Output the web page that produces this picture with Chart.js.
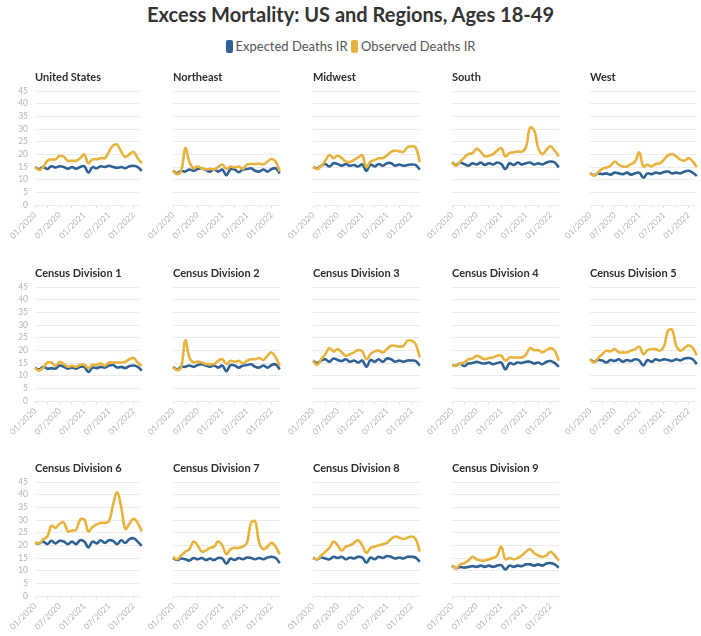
<!DOCTYPE html>
<html>
<head>
<meta charset="utf-8">
<script src="https://cdn.jsdelivr.net/npm/chart.js@4.4.0/dist/chart.umd.min.js"></script>
<style>
    body {
        margin: 0;
        background: #fff;
        width: 701px;
        height: 636px;
        overflow: hidden;
        position: relative;
        font-family: Lato, sans-serif;
    }
    #title {
        position: absolute;
        top: 2px;
        left: 0;
        width: 701px;
        text-align: center;
        font-size: 20px;
        font-weight: bold;
        color: #333;
    }
    #legend {
        position: absolute;
        top: 38px;
        left: 0;
        width: 701px;
        text-align: center;
        font-size: 13px;
        color: #555;
    }
    .swatch {
        display: inline-block;
        width: 7px;
        height: 13px;
        border-radius: 2px;
        vertical-align: -2px;
        margin-right: 3px;
    }
    canvas {
        position: absolute;
    }
</style>
</head>
<body>
<div id="title">Excess Mortality: US and Regions, Ages 18-49</div>
<div id="legend">
    <span class="swatch" style="background:#2f6194"></span>Expected Deaths IR
    <span class="swatch" style="background:#e8b33d"></span>Observed Deaths IR
</div>
<script>
// Months on the x axis
const months = [
    "01/2020", "02/2020", "03/2020", "04/2020", "05/2020", "06/2020",
    "07/2020", "08/2020", "09/2020", "10/2020", "11/2020", "12/2020",
    "01/2021", "02/2021", "03/2021", "04/2021", "05/2021", "06/2021",
    "07/2021", "08/2021", "09/2021", "10/2021", "11/2021", "12/2021",
    "01/2022", "02/2022", "03/2022"
];

// Panel titles
const regions = [
    "United States", "Northeast", "Midwest", "South", "West",
    "Census Division 1", "Census Division 2", "Census Division 3", "Census Division 4", "Census Division 5",
    "Census Division 6", "Census Division 7", "Census Division 8", "Census Division 9"
];

const yTicks = [0, 5, 10, 15, 20, 25, 30, 35, 40, 45];

// Expected / observed deaths per 100k, by month
const usExpected = [15, 14.2, 15, 14.2, 15.3, 14.8, 15.3, 15, 14.3, 15, 14.3, 15, 15.3, 12.8, 15, 14.5, 15.3, 15, 15.5, 15, 14.7, 15, 14.5, 15.3, 15.5, 15, 13.5];
const usObserved = [15, 13.8, 15, 17.5, 18, 18, 19.5, 19, 17.5, 17.5, 17.5, 18.5, 20, 16.5, 18, 18, 18.5, 18.5, 21, 23.5, 23.8, 21, 19, 20, 21, 18.5, 16.5];

const northeastExpected = [13.5, 12.5, 13.5, 13.2, 14, 13.5, 14.2, 14.5, 13.8, 13.2, 14, 13.2, 14, 11.8, 14.2, 14, 13, 14, 14.2, 14.5, 13.5, 13.2, 14, 13.2, 14.2, 14.5, 12.5];
const northeastObserved = [13.5, 12.2, 13.5, 22.5, 17, 14.5, 15.2, 14.5, 14, 14.3, 14, 15, 16, 14.3, 15.2, 14.8, 15.2, 14.3, 16, 16.2, 16.2, 16.4, 16, 17.2, 18.2, 17.2, 13.2];

const midwestExpected = [15, 14.5, 15.5, 16.2, 15.2, 16.5, 16.2, 15.5, 16.2, 15.5, 15.8, 15.2, 16, 13.5, 16, 15.2, 16.2, 15.5, 16.5, 16.5, 15.5, 16, 15.5, 15.8, 16, 15.8, 14];
const midwestObserved = [15.2, 14.2, 15.5, 17.5, 19.8, 18.5, 19.5, 18.5, 17.2, 17, 17.8, 18.8, 19.6, 15, 17.2, 17.8, 18.5, 18.5, 19.6, 21, 21.5, 21.2, 21, 22.8, 23.2, 22.8, 17];

const southExpected = [16.8, 15.8, 16.8, 16.2, 15.5, 16.5, 16, 16.8, 15.8, 16.5, 16, 16.8, 16.2, 14.2, 16.5, 15.8, 16.8, 16, 16.5, 16.8, 16, 16.5, 16, 16.8, 17.2, 16.8, 14.8];
const southObserved = [16.8, 15.5, 17.2, 18.8, 20.1, 20.5, 22.2, 21, 19.2, 19.5, 20.1, 21.5, 22.5, 19.2, 20.5, 20.8, 21.2, 21, 22.8, 30.5, 29.5, 22.5, 20.1, 21.8, 23.2, 21.5, 19.2];

const westExpected = [12.6, 11.8, 12.5, 12.2, 12.5, 12, 12.8, 12.5, 12.2, 12.8, 12, 12.5, 12.8, 10.8, 12.5, 12.2, 12.8, 12.5, 13, 13.2, 12.5, 12.8, 12.5, 13.2, 13.5, 12.8, 11.5];
const westObserved = [12.6, 11.6, 13, 14.3, 14.8, 15.5, 17.2, 15.9, 15.2, 15.2, 16.2, 17.2, 20.8, 15.2, 15.9, 15.2, 16.2, 16.5, 17.9, 19.6, 20.1, 19.2, 17.9, 17.5, 18.5, 17.2, 15];

const cd1Expected = [13, 12.5, 13.5, 12.8, 13, 12.8, 14, 13.5, 12.8, 13.2, 12.8, 13.5, 13.5, 11.5, 13.2, 13, 13.5, 13.2, 14, 14.2, 13.2, 13.5, 13, 13.8, 14, 13.5, 12];
const cd1Observed = [13, 12, 13.2, 15.2, 15.2, 13.9, 15.5, 14.6, 13.5, 13.9, 13.5, 14.3, 14.3, 13, 14.3, 14.3, 14.8, 13.9, 15.2, 15.2, 15.2, 15.2, 15.5, 16.5, 17, 15.2, 13.9];

const cd2Expected = [13.5, 12.5, 13.5, 13.5, 14, 13.5, 14.2, 14.5, 14, 13.5, 14, 13.2, 14, 11.8, 14.2, 14, 13.2, 14, 14.2, 14.5, 13.5, 13.2, 14, 13.2, 14.2, 14.5, 12.5];
const cd2Observed = [13.5, 12.2, 13.5, 24, 17.2, 15.2, 15.6, 15.2, 14.6, 14.6, 14.6, 15.9, 16.5, 14.6, 15.9, 15.5, 15.9, 14.8, 15.9, 16.5, 16.5, 17, 16.2, 17.9, 19.2, 17.2, 13.9];

const cd3Expected = [15.9, 15, 16, 16.5, 15.5, 16.8, 16.2, 15.8, 16.5, 15.5, 16, 15.2, 16, 13.5, 16.2, 15.5, 16.5, 15.5, 16.8, 16.5, 15.5, 16, 15.5, 16, 16, 15.8, 14];
const cd3Observed = [15.9, 14.3, 16.5, 18.5, 20.9, 19.6, 20.5, 19.2, 17.9, 18.5, 19.2, 20.1, 19.6, 16.5, 18.5, 19.6, 19.9, 19.2, 20.5, 21.8, 21.8, 21.5, 21.8, 23.8, 23.8, 22.5, 17.2];

const cd4Expected = [13.9, 14, 14.8, 13.8, 14.8, 15, 15.5, 15, 14.8, 15.2, 14.5, 15, 15.2, 12.5, 15, 14.5, 15.2, 15, 15.5, 15.5, 14.8, 15.2, 14.5, 15.5, 15.8, 15, 13.5];
const cd4Observed = [13.9, 13.9, 14.8, 15.2, 16.5, 16.8, 17.9, 17.2, 16.5, 17, 17.2, 17.9, 17.9, 15.9, 17.2, 17.2, 17.2, 17.2, 18.3, 20.9, 20.1, 20.1, 19.2, 20.1, 20.9, 19.9, 15.9];

const cd5Expected = [16.5, 15.5, 16.2, 16, 15.2, 16.2, 15.8, 16.5, 15.5, 16.2, 15.8, 16.5, 16, 14, 16.2, 15.5, 16.5, 16, 16.5, 16.2, 15.8, 16.5, 16, 16.8, 17, 16.5, 14.5];
const cd5Observed = [16.5, 15.2, 17, 18.5, 19.9, 19.6, 20.5, 19.2, 19.2, 19.2, 19.9, 20.5, 21.5, 18.5, 20.1, 20.5, 20.5, 19.9, 21.5, 27.8, 28.1, 21.8, 19.9, 20.9, 22, 21, 18];

const cd6Expected = [21, 20.8, 21.5, 20.5, 21.8, 20.8, 21.8, 21.5, 20.5, 21.5, 20.5, 22, 21.5, 19.2, 21.5, 20.8, 22, 21, 22, 21.8, 20.5, 22, 21, 22.5, 22.8, 21.5, 19.8];
const cd6Observed = [21.1, 20.8, 22.4, 23.5, 27.8, 26.9, 28.6, 29.1, 25.5, 25.9, 26.2, 30.2, 30.2, 25.5, 27.3, 28.2, 28.9, 28.9, 29.5, 36, 41, 35, 26.5, 28.6, 30.5, 28.9, 25.5];

const cd7Expected = [15, 14.2, 14.8, 14.5, 14, 15, 14.5, 15, 14.2, 14.8, 14.2, 15, 14.8, 12.8, 14.8, 14.2, 15, 14.5, 15.2, 15, 14.5, 15, 14.5, 15.2, 15.5, 15, 13];
const cd7Observed = [15.5, 14.5, 16, 17.5, 18.5, 21.5, 20, 17.5, 18, 19, 19.5, 21.5, 20, 16.5, 18.5, 19, 19, 19.5, 21, 29, 29.5, 21, 18.5, 19.5, 21, 19.5, 16.5];

const cd8Expected = [15, 14.5, 15.2, 14.8, 14.5, 15.5, 15, 15.5, 14.5, 15.2, 14.8, 15.5, 15.2, 13.2, 15.2, 14.5, 15.5, 15, 15.8, 15.5, 14.8, 15.2, 14.8, 15.5, 15.5, 15.2, 13.5];
const cd8Observed = [15, 14.5, 16, 17.5, 19, 21.5, 20, 18, 19.5, 20, 21, 22, 20, 17, 19, 19.5, 20, 20.5, 21, 22.5, 23.5, 23, 22.5, 23, 23.5, 22.5, 17.5];

const cd9Expected = [12, 11, 11.5, 11.2, 11.5, 11.8, 11.5, 12, 11.5, 12, 11.5, 12, 12.2, 10.5, 12, 11.5, 12, 11.8, 12.5, 12.5, 12, 12.5, 12, 12.8, 13, 12.5, 11.2];
const cd9Observed = [12, 11, 12.5, 13, 14, 15.5, 14.5, 14, 14, 14.5, 15, 16, 19.5, 14.5, 15, 14.5, 15, 16, 17.5, 18.5, 17, 16, 15.5, 16, 17.5, 16, 14];

const expectedSeries = [usExpected, northeastExpected, midwestExpected, southExpected, westExpected,
    cd1Expected, cd2Expected, cd3Expected, cd4Expected, cd5Expected,
    cd6Expected, cd7Expected, cd8Expected, cd9Expected];
const observedSeries = [usObserved, northeastObserved, midwestObserved, southObserved, westObserved,
    cd1Observed, cd2Observed, cd3Observed, cd4Observed, cd5Observed,
    cd6Observed, cd7Observed, cd8Observed, cd9Observed];

// Grid layout (plot area corners in page pixels)
const plotLefts = [35, 173, 313, 452, 590];
const plotTops = [91, 287, 482];
const Y_AXIS_W = 30;
const TITLE_H = 20;
const X_AXIS_H = 42;
const PLOT_W = 114;
const PLOT_H = 114;

const tickFont = { family: "Lato", size: 8.5 };
const tickColor = "#b5b5b5";

function createPanel(index) {
    const row = Math.floor(index / 5);
    const col = index % 5;

    let canvas = document.createElement("canvas");
    const w = Y_AXIS_W + PLOT_W + 2;
    const h = TITLE_H + PLOT_H + X_AXIS_H;
    canvas.width = w;
    canvas.height = h;
    canvas.style.width = w + "px";
    canvas.style.height = h + "px";
    canvas.style.left = (plotLefts[col] - Y_AXIS_W) + "px";
    canvas.style.top = (plotTops[row] - TITLE_H) + "px";
    document.body.appendChild(canvas);

    return new Chart(canvas, {
        type: "line",
        data: {
            labels: months,
            datasets: [{
                label: "Expected Deaths IR",
                data: expectedSeries[index],
                borderColor: "#2f6194",
                borderWidth: 2.6,
                pointRadius: 0,
                tension: 0.4,
                order: 1
            }, {
                label: "Observed Deaths IR",
                data: observedSeries[index],
                borderColor: "#e8b33d",
                borderWidth: 2.6,
                pointRadius: 0,
                tension: 0.4,
                order: 0
            }]
        },
        options: {
            responsive: false,
            animation: false,
            layout: { padding: { right: 2 } },
            plugins: {
                legend: { display: false },
                tooltip: { enabled: false },
                title: {
                    display: true,
                    text: regions[index],
                    align: "start",
                    fullSize: false,
                    color: "#2e2e2e",
                    font: { family: "Lato", size: 11, weight: "bold", lineHeight: 1.1 },
                    padding: { top: 0, bottom: 8 }
                }
            },
            scales: {
                x: {
                    ticks: {
                        autoSkip: false,
                        minRotation: 45,
                        maxRotation: 45,
                        padding: 2,
                        font: tickFont,
                        color: tickColor,
                        callback: function (value, i) {
                            return i % 6 === 0 ? this.getLabelForValue(value) : "";
                        }
                    },
                    grid: {
                        drawOnChartArea: false,
                        tickLength: 3,
                        color: (ctx) => ctx.index % 3 === 0 ? "#e2e2e2" : "rgba(0,0,0,0)"
                    },
                    border: { display: false },
                    afterFit: (scale) => { scale.height = X_AXIS_H; }
                },
                y: {
                    min: yTicks[0],
                    max: yTicks[yTicks.length - 1],
                    afterBuildTicks: (scale) => {
                        scale.ticks = yTicks.map((v) => ({ value: v }));
                    },
                    ticks: {
                        autoSkip: false,
                        display: col === 0,
                        padding: 7,
                        font: tickFont,
                        color: tickColor
                    },
                    grid: { color: "#ebebeb", drawTicks: false },
                    border: { display: false },
                    afterFit: (scale) => { scale.width = Y_AXIS_W; }
                }
            }
        }
    });
}

for (let i = 0; i < regions.length; i++) {
    createPanel(i);
}
</script>
</body>
</html>
